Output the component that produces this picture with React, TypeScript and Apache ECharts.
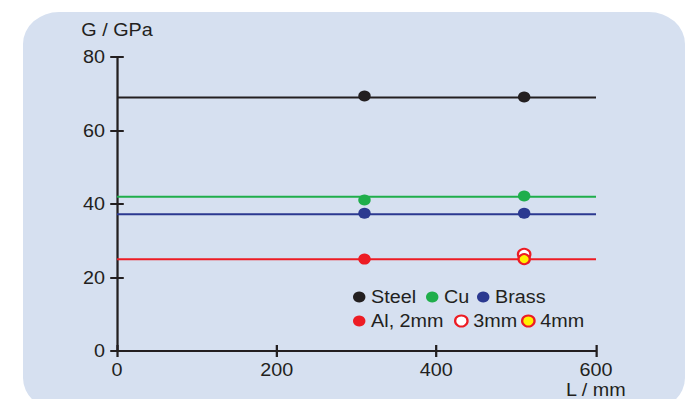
import React, { useEffect, useRef } from "react";
import * as echarts from "echarts";

// Shear modulus G versus specimen length L
const lineLength: number[] = [0, 600];
const steelLevel = 69;
const cuLevel = 42;
const brassLevel = 37.2;
const alLevel = 25;

const sampleLengths: number[] = [310, 510];
const steelG: number[] = [69.4, 69.1];
const cuG: number[] = [41.1, 42.2];
const brassG: number[] = [37.5, 37.5];
const al2mmL: number[] = [310];
const al2mmG: number[] = [25.0];
const al3mmL: number[] = [510];
const al3mmG: number[] = [26.3];
const al4mmL: number[] = [510];
const al4mmG: number[] = [25.0];

const xTicks = { min: 0, max: 600, interval: 200 };
const yTicks = { min: 0, max: 80, interval: 20 };

const INK = "#231f20";
const GREEN = "#1fae4b";
const BLUE = "#2b3990";
const RED = "#ed1c24";
const YELLOW = "#fff200";
const FONT = "Liberation Sans";
const FS = 17.5;

// The artwork is drawn slightly wide: lay out in narrow units and stretch horizontally.
const SX = 1.13;
const W = 687;
const H = 399;
const nx = (px: number) => px / SX;

const pairs = (xs: number[], ys: number[]) => xs.map((x, i) => [x, ys[i]]);
const level = (v: number) => lineLength.map((x) => [x, v]);

export default function App() {
  const ref = useRef<HTMLDivElement>(null);

  useEffect(() => {
    if (!ref.current) return;
    const chart = echarts.init(ref.current, undefined, { renderer: "svg" });

    const fitLine = (name: string, v: number, color: string) => ({
      name,
      type: "line",
      data: level(v),
      showSymbol: false,
      symbol: "none",
      lineStyle: { color, width: 2 },
      z: 2,
    });
    const dots = (
      name: string,
      data: number[][],
      fill: string,
      border: string,
      size: number,
      z: number
    ) => ({
      name,
      type: "scatter",
      data,
      symbol: "circle",
      symbolSize: size,
      itemStyle: {
        color: fill,
        borderColor: border,
        borderWidth: border === fill ? 0 : 2,
        opacity: 1,
      },
      z,
    });

    const baseTick = { lineStyle: { color: INK, width: 2 }, length: 6 };
    const legendItem = (name: string, left: number, top: number) => ({
      show: true,
      data: [name],
      left: nx(left),
      top,
      padding: 0,
      itemWidth: 11,
      itemHeight: 11,
      itemGap: 0,
      icon: "circle",
      selectedMode: false,
      textStyle: { color: INK, fontSize: FS, fontFamily: FONT },
    });

    chart.setOption({
      animation: false,
      textStyle: { fontFamily: FONT },
      graphic: [
        {
          type: "rect",
          z: -10,
          shape: { x: nx(23), y: 12, width: nx(662), height: 398, r: 32 },
          style: { fill: "#d6e0f0" },
          silent: true,
        },
      ],
      grid: {
        left: nx(117),
        top: 57,
        width: nx(596 - 117),
        height: 298,
        containLabel: false,
      },
      legend: [
        legendItem("Steel", 353, 288),
        legendItem("Cu", 426, 288),
        legendItem("Brass", 477, 288),
        legendItem("Al, 2mm", 353, 312),
        legendItem("3mm", 454, 312),
        legendItem("4mm", 521, 312),
      ],
      xAxis: [
        {
          type: "value",
          position: "bottom",
          ...xTicks,
          name: "L / mm",
          nameLocation: "end",
          nameGap: nx(-30),
          nameTextStyle: {
            color: INK,
            fontSize: FS,
            fontFamily: FONT,
            align: "left",
            verticalAlign: "top",
            padding: [30, 0, 0, 0],
          },
          axisLine: { show: true, lineStyle: { color: INK, width: 2 } },
          axisTick: { show: true, inside: false, ...baseTick },
          axisLabel: { color: INK, fontSize: FS, fontFamily: FONT, margin: 10 },
          splitLine: { show: false },
        },
        {
          type: "value",
          position: "bottom",
          ...xTicks,
          axisLine: { show: false },
          axisTick: { show: true, inside: true, ...baseTick },
          axisLabel: { show: false },
          splitLine: { show: false },
        },
      ],
      yAxis: [
        {
          type: "value",
          position: "left",
          ...yTicks,
          name: "G / GPa",
          nameLocation: "end",
          nameGap: 18,
          nameTextStyle: { color: INK, fontSize: FS, fontFamily: FONT, align: "center" },
          axisLine: { show: true, lineStyle: { color: INK, width: 2 } },
          axisTick: { show: true, inside: false, ...baseTick },
          axisLabel: { color: INK, fontSize: FS, fontFamily: FONT, margin: nx(12) },
          splitLine: { show: false },
        },
        {
          type: "value",
          position: "left",
          ...yTicks,
          axisLine: { show: false },
          axisTick: { show: true, inside: true, ...baseTick },
          axisLabel: { show: false },
          splitLine: { show: false },
        },
      ],
      series: [
        fitLine("Steel level", steelLevel, INK),
        fitLine("Cu level", cuLevel, GREEN),
        fitLine("Brass level", brassLevel, BLUE),
        fitLine("Al level", alLevel, RED),
        dots("Steel", pairs(sampleLengths, steelG), INK, INK, 11, 5),
        dots("Cu", pairs(sampleLengths, cuG), GREEN, GREEN, 11, 5),
        dots("Brass", pairs(sampleLengths, brassG), BLUE, BLUE, 11, 5),
        dots("Al, 2mm", pairs(al2mmL, al2mmG), RED, RED, 11, 5),
        dots("3mm", pairs(al3mmL, al3mmG), "#ffffff", RED, 11, 5),
        dots("4mm", pairs(al4mmL, al4mmG), YELLOW, RED, 10, 6),
      ],
    });

    return () => chart.dispose();
  }, []);

  return (
    <div
      style={{
        position: "fixed",
        left: 0,
        top: 0,
        width: W,
        height: H,
        overflow: "hidden",
        background: "#ffffff",
      }}
    >
      <div
        ref={ref}
        style={{
          width: nx(W),
          height: H,
          transform: `scaleX(${SX})`,
          transformOrigin: "0 0",
        }}
      />
    </div>
  );
}
